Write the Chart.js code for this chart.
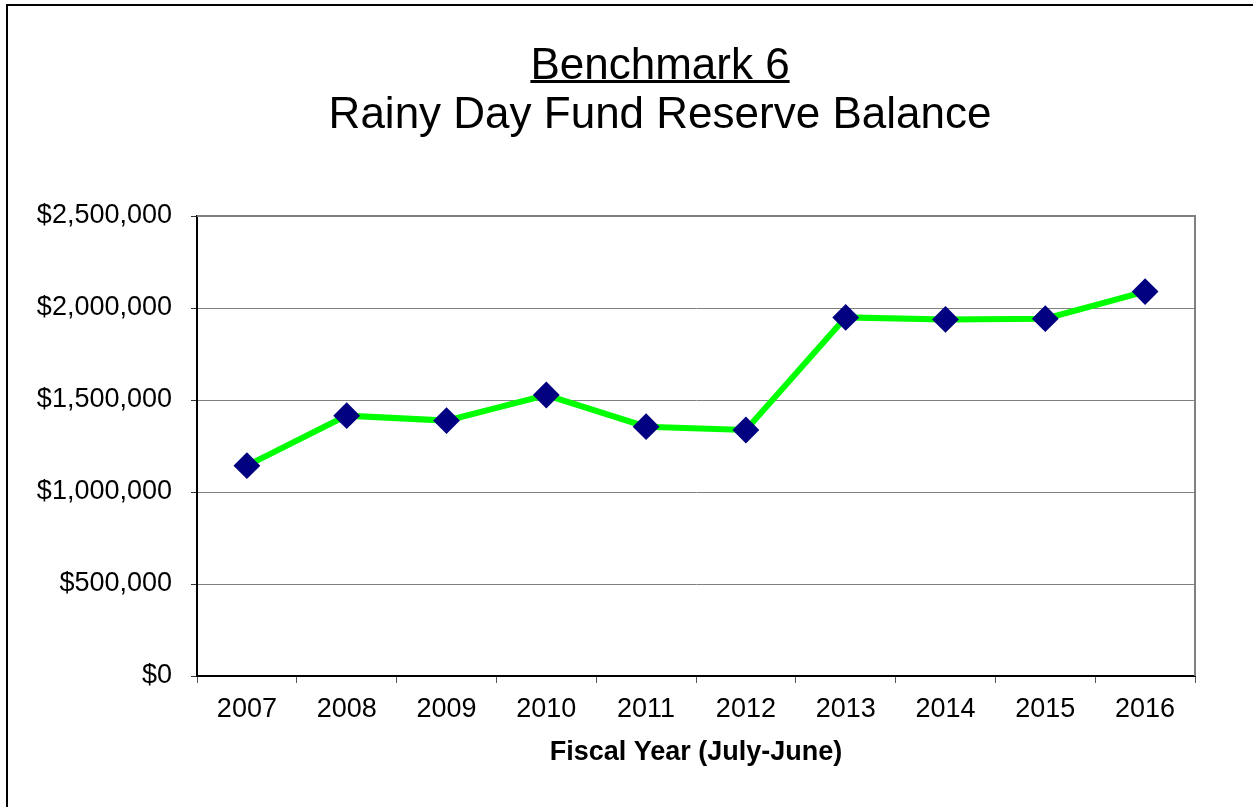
<!DOCTYPE html>
<html>
<head>
<meta charset="utf-8">
<title>Rainy Day Fund Reserve Balance</title>
<script src="https://cdn.jsdelivr.net/npm/chart.js@4/dist/chart.umd.min.js"></script>
<style>
	html, body { margin: 0; padding: 0; background: #fff; overflow: hidden; }
	#frame {
		position: absolute; left: 6px; top: 4px;
		width: 1400px; height: 900px;
		border: 2px solid #000;
	}
	#chart { position: absolute; left: 0; top: 0; }
</style>
</head>
<body>
<div id="frame"></div>
<canvas id="chart" width="1253" height="807"></canvas>
<script>
// fiscal years and reserve balance at year end
const years = ['2007', '2008', '2009', '2010', '2011', '2012', '2013', '2014', '2015', '2016'];
const balance = [1143000, 1415000, 1388000, 1527000, 1355000, 1337000, 1949000, 1938000, 1942000, 2089000];

const titleLines = ['Benchmark 6', 'Rainy Day Fund Reserve Balance'];
const xTitle = 'Fiscal Year (July-June)';

const FONT = '"Liberation Sans", Arial, Helvetica, sans-serif';

// two-line heading, first line underlined, plus the grey top/right edge of the plot
const decorations = {
	id: 'decorations',
	beforeDatasetsDraw(chart) {
		const { ctx, chartArea } = chart;
		ctx.save();
		ctx.strokeStyle = '#808080';
		ctx.lineWidth = 2;
		ctx.beginPath();
		ctx.moveTo(chartArea.left, chartArea.top);
		ctx.lineTo(chartArea.right, chartArea.top);
		ctx.lineTo(chartArea.right, chartArea.bottom);
		ctx.stroke();
		ctx.restore();
	},
	afterDraw(chart) {
		const ctx = chart.ctx;
		const cx = 660;
		ctx.save();
		ctx.fillStyle = '#000';
		ctx.font = '44px ' + FONT;
		ctx.textAlign = 'center';
		ctx.textBaseline = 'alphabetic';
		ctx.fillText(titleLines[0], cx, 79);
		const w = ctx.measureText(titleLines[0]).width;
		ctx.fillRect(cx - w / 2, 80, w, 3);
		ctx.fillText(titleLines[1], cx, 128);
		ctx.restore();
	}
};

new Chart(document.getElementById('chart'), {
	type: 'line',
	data: {
		labels: years,
		datasets: [{
			data: balance,
			borderColor: '#00ff00',
			borderWidth: 6,
			tension: 0,
			pointStyle: 'rectRot',
			pointRadius: 12,
			pointBorderWidth: 2,
			pointBackgroundColor: '#000080',
			pointBorderColor: '#000080'
		}]
	},
	options: {
		responsive: false,
		animation: false,
		layout: {
			padding: { top: 216, right: 58, bottom: 0, left: 0 }
		},
		plugins: {
			legend: { display: false },
			tooltip: { enabled: false },
			title: { display: false }
		},
		scales: {
			x: {
				offset: true,
				grid: {
					offset: true,
					drawOnChartArea: false,
					drawTicks: true,
					tickLength: 7,
					tickColor: '#555'
				},
				border: { color: '#000', width: 2 },
				ticks: {
					color: '#000',
					padding: 10,
					maxRotation: 0,
					font: { family: FONT, size: 27 }
				},
				title: {
					display: true,
					text: xTitle,
					color: '#000',
					padding: { top: 0, bottom: 38 },
					font: { family: FONT, size: 27, weight: 'bold' }
				},
				afterFit(scale) { scale.height = 131; }
			},
			y: {
				min: 0,
				max: 2500000,
				grid: {
					color: '#808080',
					lineWidth: 1,
					tickLength: 6,
					tickColor: '#333'
				},
				border: { color: '#000', width: 2 },
				ticks: {
					stepSize: 500000,
					color: '#000',
					padding: 19,
					font: { family: FONT, size: 27 },
					callback: (v) => '$' + Number(v).toLocaleString('en-US')
				},
				afterFit(scale) { scale.width = 197; }
			}
		}
	},
	plugins: [decorations]
});
</script>
</body>
</html>
